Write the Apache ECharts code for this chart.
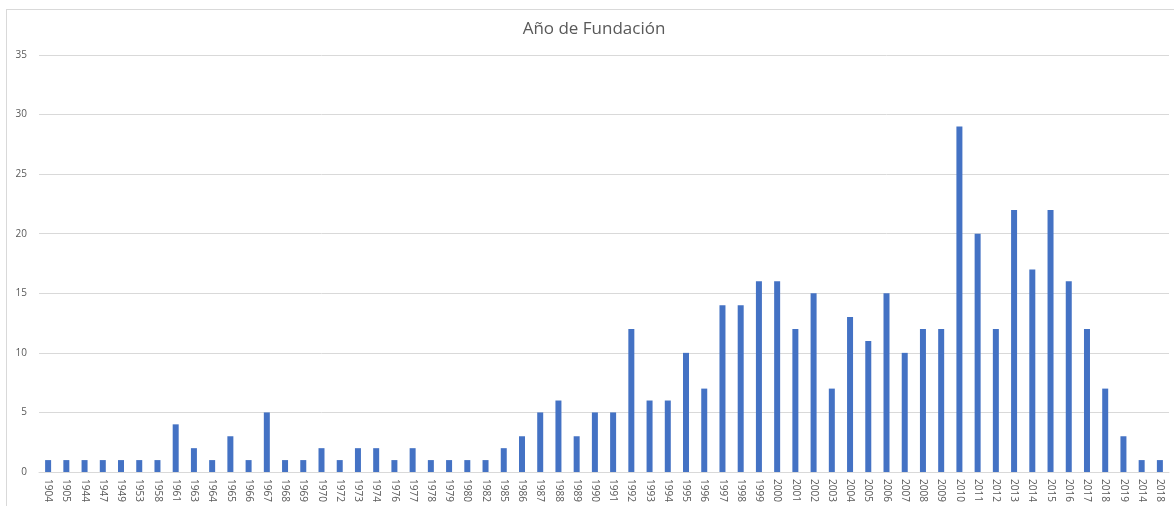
<!DOCTYPE html>
<html>
<head>
<meta charset="utf-8">
<script src="https://cdn.jsdelivr.net/npm/echarts@6/dist/echarts.min.js"></script>
<style>
html,body{margin:0;padding:0;background:#fff;}
#frame{position:absolute;left:6px;top:9px;width:1180px;height:520px;border:1px solid #d9d9d9;box-sizing:border-box;}
#chart{position:absolute;left:0;top:0;width:1174px;height:506px;}
</style>
</head>
<body>
<div id="frame"></div>
<div id="chart"></div>
<script>
const titleText = "Año de Fundación";
const categories = ["1904","1905","1944","1947","1949","1953","1958","1961","1963","1964","1965","1966","1967","1968","1969","1970","1972","1973","1974","1976","1977","1978","1979","1980","1982","1985","1986","1987","1988","1989","1990","1991","1992","1993","1994","1995","1996","1997","1998","1999","2000","2001","2002","2003","2004","2005","2006","2007","2008","2009","2010","2011","2012","2013","2014","2015","2016","2017","2018","2019","2014","2018"];
const counts = [1,1,1,1,1,1,1,4,2,1,3,1,5,1,1,2,1,2,2,1,2,1,1,1,1,2,3,5,6,3,5,5,12,6,6,10,7,14,14,16,16,12,15,7,13,11,15,10,12,12,29,20,12,22,17,22,16,12,7,3,1,1];
const yTicks = [0,5,10,15,20,25,30,35];

const chart = echarts.init(document.getElementById('chart'), null, {renderer:'canvas'});
chart.setOption({
  animation:false,
  backgroundColor:'transparent',
  title:{text:titleText,left:589,textAlign:'center',top:16,textStyle:{fontFamily:'Open Sans',fontSize:17,fontWeight:'normal',color:'#595959'}},
  grid:{left:39,right:5,top:55,bottom:34,containLabel:false},
  xAxis:{type:'category',data:categories,
    axisLine:{lineStyle:{color:'#d9d9d9'}},axisTick:{show:false},
    axisLabel:{rotate:-90,interval:0,margin:7,fontFamily:'Open Sans',fontSize:10,color:'#595959'}},
  yAxis:{type:'value',min:yTicks[0],max:yTicks[yTicks.length-1],interval:5,
    axisLine:{show:false},axisTick:{show:false},
    splitLine:{lineStyle:{color:'#d9d9d9'}},
    axisLabel:{margin:12,fontFamily:'Open Sans',fontSize:10,color:'#595959'}},
  series:[{type:'bar',data:counts,barWidth:6,itemStyle:{color:'#4472c4'}}]
});
</script>
</body>
</html>
